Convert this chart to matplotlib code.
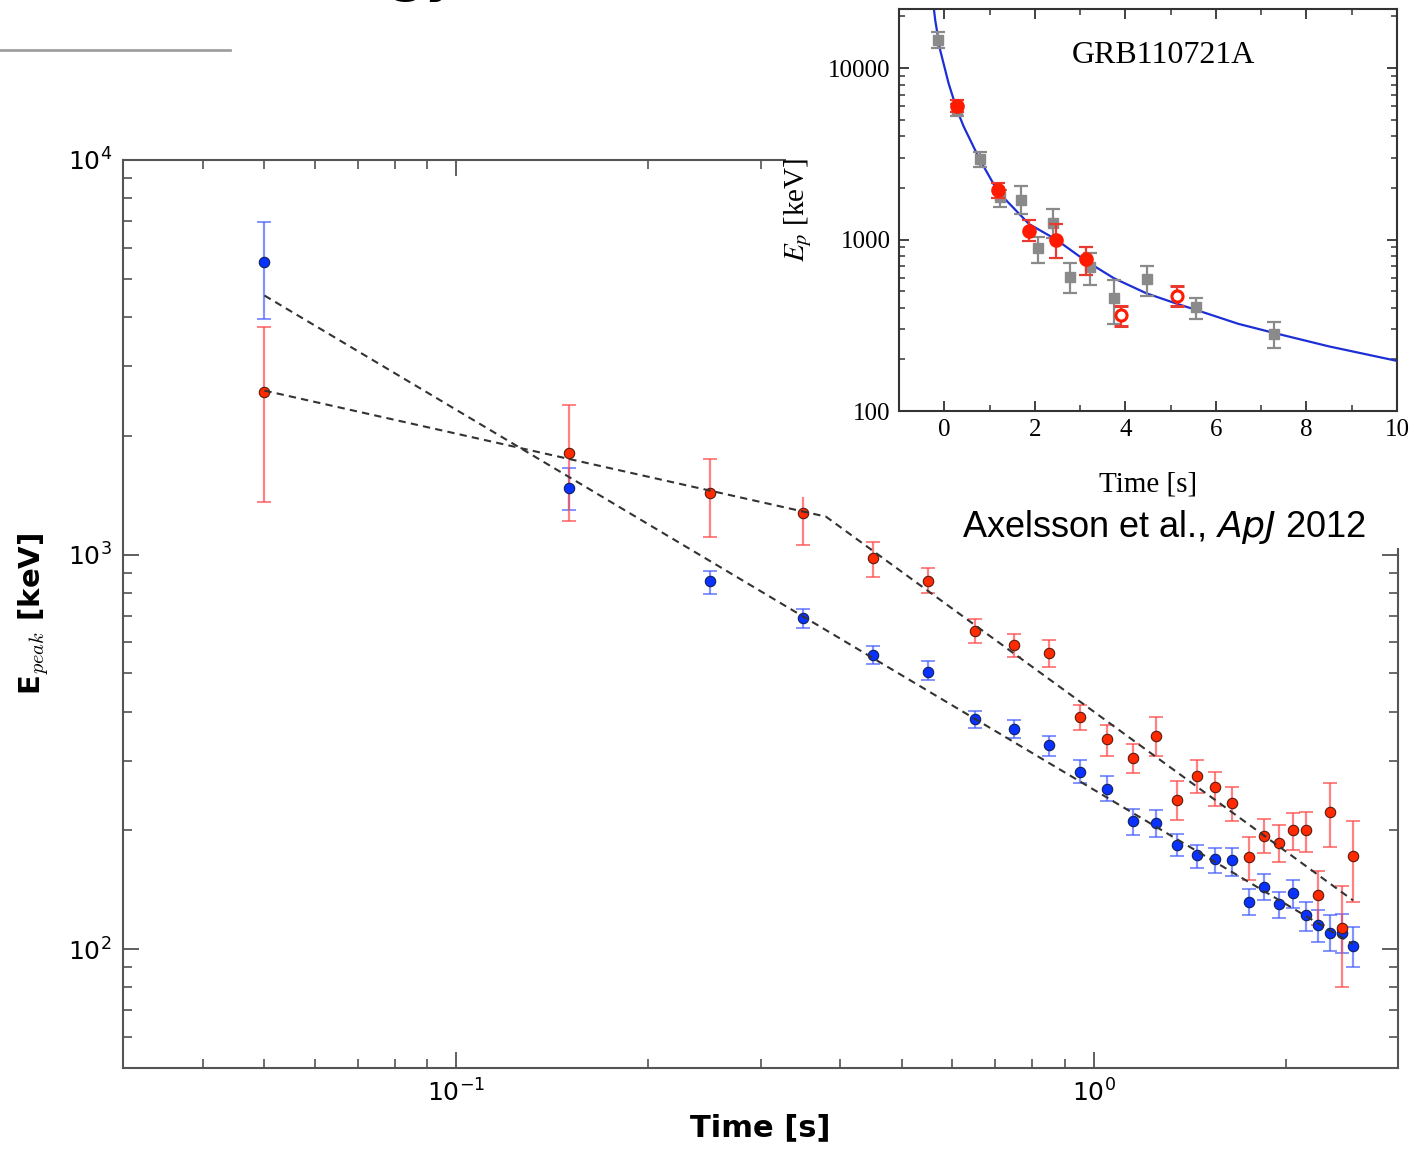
import matplotlib
matplotlib.use("Agg")
import matplotlib.pyplot as plt
from matplotlib.patches import Rectangle
from matplotlib.lines import Line2D
from matplotlib.ticker import LogLocator, NullFormatter, MultipleLocator

# --- panel principal: tiempo (s) y Epeak (keV) ---
tiempo = [0.05, 0.15, 0.25, 0.35, 0.45, 0.55, 0.65, 0.75, 0.85, 0.95, 1.05, 1.15, 1.25,
          1.35, 1.45, 1.55, 1.65, 1.75, 1.85, 1.95, 2.05, 2.15, 2.25, 2.35, 2.45, 2.55]

ep_azul = [5500, 1479, 855, 692, 558, 505, 384, 362, 330, 282, 255, 211, 209,
           184, 173, 169, 168, 132, 144, 130, 139, 122, 115, 110, 110, 102]
ep_azul_hi = [6980, 1662, 911, 730, 588, 536, 402, 382, 348, 302, 274, 226, 225,
              196, 184, 181, 181, 142, 155, 140, 150, 132, 126, 122, 123, 114]
ep_azul_lo = [3964, 1300, 796, 653, 529, 480, 364, 343, 309, 264, 238, 195, 193,
              172, 161, 156, 153, 122, 133, 120, 127, 111, 104, 99, 98, 90]

ep_rojo = [2576, 1814, 1430, 1278, 983, 859, 641, 591, 564, 388, 340, 306, 348,
           239, 275, 257, 235, 171, 194, 186, 201, 200, 137, 223, 113, 172]
ep_rojo_hi = [3784, 2400, 1750, 1412, 1079, 927, 688, 631, 609, 417, 371, 332, 388,
              267, 301, 282, 258, 192, 214, 207, 222, 223, 158, 264, 145, 211]
ep_rojo_lo = [1362, 1219, 1111, 1060, 880, 801, 598, 551, 520, 360, 309, 280, 308,
              213, 249, 231, 211, 150, 175, 166, 178, 176, 115, 182, 80, 132]

# ajustes (vertices de las leyes de potencia)
ajuste_azul_t = [0.05, 2.55]
ajuste_azul_e = [4535, 103]
ajuste_rojo_t = [0.05, 0.38, 2.55]
ajuste_rojo_e = [2604, 1248, 133]

# --- recuadro GRB110721A ---
gris_t = [-0.13, 0.28, 0.78, 1.24, 1.69, 2.06, 2.41, 2.77, 3.22, 3.75, 4.47, 5.57, 7.29]
gris_e = [14560, 5700, 2940, 1778, 1700, 889, 1242, 607, 689, 454, 586, 402, 280]
gris_hi = [16150, 6150, 3250, 1950, 2050, 1038, 1500, 733, 838, 581, 697, 458, 332]
gris_lo = [13030, 5250, 2660, 1550, 1400, 726, 1016, 486, 543, 321, 468, 343, 232]

rojo_t = [0.28, 1.185, 1.87, 2.47, 3.12]
rojo_e = [6000, 1945, 1125, 1000, 767]
rojo_hi = [6500, 2150, 1300, 1232, 910]
rojo_lo = [5550, 1750, 980, 776, 621]

abierto_t = [3.91, 5.15]
abierto_e = [363, 470]
abierto_hi = [409, 536]
abierto_lo = [311, 409]

curva_t = [-0.245, -0.2, -0.09, 0.095, 0.28, 0.43, 0.78, 1.185, 1.87, 2.47, 3.12,
           3.75, 4.47, 5.15, 5.57, 6.5, 7.29, 8.5, 10.0]
curva_e = [24000, 19000, 12700, 8150, 5700, 4550, 2940, 1900, 1232, 1000, 752,
           594, 485, 421, 388, 322, 285, 238, 196]


def barras(t, e, hi, lo):
    return [[v - l for v, l in zip(e, lo)], [h - v for v, h in zip(e, hi)]]


fig = plt.figure(figsize=(14.16, 11.49), dpi=100)

# restos de la diapositiva
fig.add_artist(Line2D([0, 230 / 1416], [1 - 50 / 1149] * 2, color="#a0a0a0", lw=2))
fig.text(458 / 1416, 1 + 8 / 1149, "gy", fontsize=36, fontweight="bold",
         ha="right", va="baseline")

ax = fig.add_axes([123 / 1416, 81 / 1149, 1275 / 1416, 908 / 1149])
ax.set_xscale("log")
ax.set_yscale("log")

ax.errorbar(tiempo, ep_azul, yerr=barras(tiempo, ep_azul, ep_azul_hi, ep_azul_lo),
            fmt="none", ecolor=(0.25, 0.35, 1.0, 0.65), elinewidth=1.6,
            capsize=5, capthick=1.4, zorder=2)
ax.errorbar(tiempo, ep_rojo, yerr=barras(tiempo, ep_rojo, ep_rojo_hi, ep_rojo_lo),
            fmt="none", ecolor=(1.0, 0.3, 0.3, 0.7), elinewidth=1.6,
            capsize=5, capthick=1.4, zorder=2)
ax.plot(tiempo, ep_azul, "o", ms=7.5, mfc="#0a32ff", mec="#10205a", mew=0.8, zorder=3)
ax.plot(tiempo, ep_rojo, "o", ms=7.5, mfc="#ff2a00", mec="#5a1a10", mew=0.8, zorder=3)

ax.plot(ajuste_azul_t, ajuste_azul_e, color="#333333", lw=1.5, dashes=(3.5, 2.5), zorder=4)
ax.plot(ajuste_rojo_t, ajuste_rojo_e, color="#333333", lw=1.5, dashes=(3.5, 2.5), zorder=4)

ax.set_xlim(0.03, 3)
ax.set_ylim(50, 1e4)
ax.xaxis.set_major_locator(LogLocator(base=10, numticks=10))
ax.xaxis.set_minor_locator(LogLocator(base=10, subs=range(2, 10), numticks=20))
ax.xaxis.set_minor_formatter(NullFormatter())
ax.yaxis.set_minor_locator(LogLocator(base=10, subs=range(2, 10), numticks=20))
ax.yaxis.set_minor_formatter(NullFormatter())
ax.tick_params(which="both", direction="in", top=True, right=True,
               color="#444444", labelsize=18, pad=8)
ax.tick_params(which="major", length=11.5, width=1.2)
ax.tick_params(which="minor", length=6.5, width=1.1)
for s in ax.spines.values():
    s.set_color("#555555")
    s.set_linewidth(1.5)

ax.set_xlabel("Time [s]", fontsize=22, fontweight="bold", labelpad=5)
ax.set_ylabel("E$_{peak}$ [keV]", fontsize=21, fontweight="bold",
              math_fontfamily="cm", labelpad=12)

# tapas blancas detras del recuadro y de la cita
fig.add_artist(Rectangle((786 / 1416, 1 - 497 / 1149), 1 - 786 / 1416, 497 / 1149,
                         transform=fig.transFigure, facecolor="white",
                         edgecolor="none", zorder=1))
fig.add_artist(Rectangle((945 / 1416, 1 - 548 / 1149), 1 - 945 / 1416, 60 / 1149,
                         transform=fig.transFigure, facecolor="white",
                         edgecolor="none", zorder=1))

fuente = "Liberation Serif"
ins = fig.add_axes([899 / 1416, 738 / 1149, 498 / 1416, 401.7 / 1149], zorder=2)
ins.set_yscale("log")
ins.plot(curva_t, curva_e, color="#1c2fd6", lw=1.6, zorder=2)
ins.errorbar(gris_t, gris_e, yerr=barras(gris_t, gris_e, gris_hi, gris_lo),
             fmt="s", ms=6.5, color="#8a8a8a", ecolor="#8a8a8a", elinewidth=1.6,
             capsize=5, capthick=1.6, zorder=3)
ins.errorbar(rojo_t, rojo_e, yerr=barras(rojo_t, rojo_e, rojo_hi, rojo_lo),
             fmt="o", ms=9.5, color="#ff1a00", ecolor="#e83a30", elinewidth=1.6,
             capsize=5, capthick=1.6, zorder=4)
ins.errorbar(abierto_t, abierto_e, yerr=barras(abierto_t, abierto_e, abierto_hi, abierto_lo),
             fmt="o", ms=8, mfc="white", mec="#ff1a00", mew=2.2, ecolor="#e83a30",
             elinewidth=1.6, capsize=5, capthick=1.6, zorder=4)

ins.set_xlim(-1, 10)
ins.set_ylim(100, 22000)
ins.xaxis.set_major_locator(MultipleLocator(2))
ins.xaxis.set_minor_locator(MultipleLocator(1))
ins.set_yticks([100, 1000, 10000], labels=["100", "1000", "10000"])
ins.yaxis.set_minor_locator(LogLocator(base=10, subs=range(2, 10), numticks=20))
ins.yaxis.set_minor_formatter(NullFormatter())
ins.tick_params(which="both", direction="in", top=True, right=True, color="#333333")
ins.tick_params(which="major", length=7, width=1.3, labelsize=18, pad=6)
ins.tick_params(which="minor", length=4, width=1.1)
for lab in ins.get_xticklabels() + ins.get_yticklabels():
    lab.set_fontfamily(fuente)
for s in ins.spines.values():
    s.set_color("#333333")
    s.set_linewidth(1.5)
ins.set_xlabel("Time [s]", fontsize=21, family=fuente, labelpad=22)
ins.set_ylabel("$E_p$ [keV]", fontsize=21, family=fuente, math_fontfamily="stix",
               labelpad=10)
ins.text(0.53, 0.886, "GRB110721A", transform=ins.transAxes, fontsize=23,
         family=fuente, ha="center", va="center")

fig.text(962 / 1416, 1 - 527 / 1149, "Axelsson et al., $\\mathit{ApJ}$ 2012",
         fontsize=26, family="Liberation Sans", ha="left", va="center",
         math_fontfamily="custom", zorder=3)

fig.savefig("out.png", dpi=100)
